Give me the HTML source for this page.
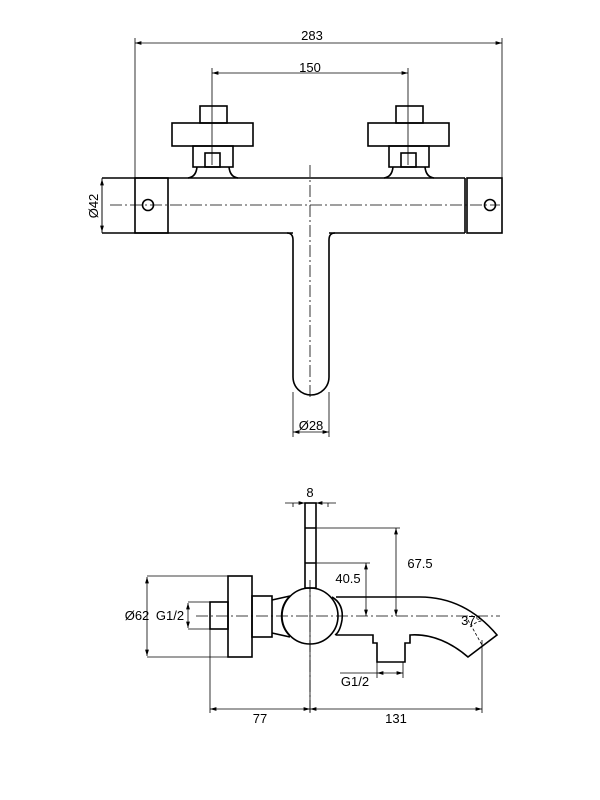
<!DOCTYPE html><html><head><style>body{margin:0;background:#fff}svg{display:block}text{font-family:"Liberation Sans",sans-serif;font-size:13px;fill:#000}</style></head><body>
<svg width="600" height="800" viewBox="0 0 600 800" xmlns="http://www.w3.org/2000/svg">
<defs><marker id="a" viewBox="0 0 10 6" refX="10" refY="3" markerWidth="8" markerHeight="5" orient="auto-start-reverse"><path d="M0,0L10,3L0,6z" fill="#000"/></marker></defs>
<g fill="none" stroke="#000" stroke-width="1.6">
<path d="M102,178H465M102,233H293M329,233H465"/>
<rect x="135" y="178" width="33" height="55"/>
<rect x="467" y="178" width="35" height="55"/>
<line x1="465" y1="178" x2="465" y2="233"/>
<circle cx="148" cy="205" r="5.5"/><circle cx="490" cy="205" r="5.5"/>
<path d="M287,233Q293,233 293,240V377A18,18 0 0 0 329,377V240Q329,233 335,233"/>
<g id="k"><rect x="200" y="106" width="27" height="17"/><rect x="172" y="123" width="81" height="23"/><rect x="193" y="146" width="40" height="21"/><rect x="205" y="153" width="15" height="14"/><path d="M197,167Q196,177 188,178M229,167Q230,177 238,178"/></g>
<use href="#k" x="196"/>
</g>
<g stroke="#000" stroke-width="0.8" fill="none">
<path d="M135,178V38M502,178V38M212,165V68M408,165V68M102,178V233M293,392V437M329,392V437"/>
<line x1="135" y1="43" x2="502" y2="43" marker-start="url(#a)" marker-end="url(#a)"/>
<line x1="212" y1="73" x2="408" y2="73" marker-start="url(#a)" marker-end="url(#a)"/>
<line x1="102" y1="179" x2="102" y2="232" marker-start="url(#a)" marker-end="url(#a)"/>
<line x1="293" y1="432" x2="329" y2="432" marker-start="url(#a)" marker-end="url(#a)"/>
<path d="M110,205H500M310,165V400" stroke-dasharray="12,3,2,3"/>
</g>
<text x="312" y="40" text-anchor="middle">283</text>
<text x="310" y="72" text-anchor="middle">150</text>
<text x="311" y="430" text-anchor="middle">Ø28</text>
<text transform="translate(98,206) rotate(-90)" text-anchor="middle">Ø42</text>
<g fill="none" stroke="#000" stroke-width="1.6">
<rect x="305" y="503" width="11" height="85"/>
<path d="M305,528H316M305,563H316"/>
<rect x="228" y="576" width="24" height="81"/>
<rect x="252" y="596" width="20" height="41"/>
<rect x="210" y="602" width="18" height="27"/>
<path d="M272,600L290,596M272,633L290,637"/>
<path d="M290,596A28,28 0 0 0 290,636"/>
<circle cx="310" cy="616" r="28"/>
<path d="M332,597Q344,604 342,620Q340,632 335,635"/>
<path d="M336,597H420Q465,597 497,635L468,657Q440,633 410,635V643H405V662H377V643H373V635H336"/>
</g>
<g stroke="#000" stroke-width="0.8" fill="none">
<path d="M293,503V507M328,503V507M316,528H400M316,563H370M147,576H228M147,657H228M188,602H210M188,629H210M210,629V713M310,588V713M482,640V713M403,662V678M377,662V678M340,673H377"/>
<line x1="285" y1="503" x2="305" y2="503" marker-end="url(#a)"/>
<line x1="336" y1="503" x2="316" y2="503" marker-end="url(#a)"/>
<line x1="396" y1="528" x2="396" y2="616" marker-start="url(#a)" marker-end="url(#a)"/>
<line x1="366" y1="563" x2="366" y2="616" marker-start="url(#a)" marker-end="url(#a)"/>
<line x1="147" y1="577" x2="147" y2="656" marker-start="url(#a)" marker-end="url(#a)"/>
<line x1="188" y1="603" x2="188" y2="628" marker-start="url(#a)" marker-end="url(#a)"/>
<line x1="377" y1="673" x2="403" y2="673" marker-start="url(#a)" marker-end="url(#a)"/>
<line x1="210" y1="709" x2="310" y2="709" marker-start="url(#a)" marker-end="url(#a)"/>
<line x1="310" y1="709" x2="482" y2="709" marker-start="url(#a)" marker-end="url(#a)"/>
<path d="M196,616H500M310,580V713" stroke-dasharray="12,3,2,3"/>
<path d="M468,620L482,645M470,627Q478,620 484,621" stroke-dasharray="3,2"/>
</g>
<text x="310" y="497" text-anchor="middle">8</text>
<text x="420" y="568" text-anchor="middle">67.5</text>
<text x="348" y="583" text-anchor="middle">40.5</text>
<text x="137" y="620" text-anchor="middle">Ø62</text>
<text x="170" y="620" text-anchor="middle">G1/2</text>
<text x="355" y="686" text-anchor="middle">G1/2</text>
<text x="260" y="723" text-anchor="middle">77</text>
<text x="396" y="723" text-anchor="middle">131</text>
<text x="471" y="625" text-anchor="middle">37°</text>
</svg></body></html>
